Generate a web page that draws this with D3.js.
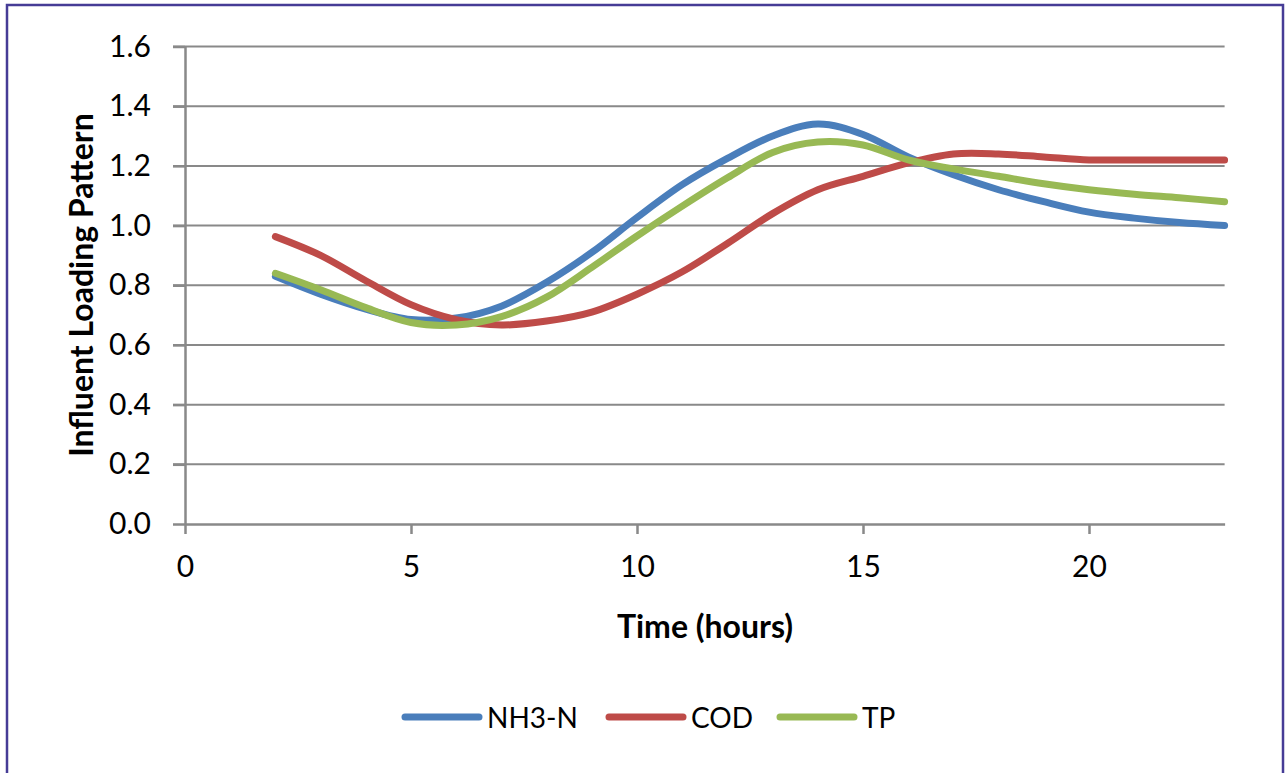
<!DOCTYPE html>
<html>
<head>
<meta charset="utf-8">
<script src="https://cdn.jsdelivr.net/npm/d3@7"></script>
<style>
  body { margin: 0; background: #fff; }
  text { font-family: Lato, "Open Sans", sans-serif; fill: #000; }
</style>
</head>
<body>
<script>
// hours of day
var hours = [2,3,4,5,6,7,8,9,10,11,12,13,14,15,16,17,18,19,20,21,22,23];
// loading patterns
var nh3n = [0.83,0.77,0.72,0.685,0.69,0.73,0.81,0.91,1.027,1.137,1.225,1.30,1.34,1.305,1.23,1.17,1.12,1.08,1.045,1.025,1.01,1.00];
var cod  = [0.963,0.90,0.815,0.735,0.685,0.667,0.68,0.71,0.77,0.845,0.94,1.04,1.12,1.165,1.21,1.24,1.24,1.23,1.22,1.22,1.22,1.22];
var tp   = [0.84,0.785,0.725,0.675,0.667,0.695,0.76,0.86,0.965,1.065,1.16,1.245,1.28,1.27,1.22,1.19,1.165,1.14,1.12,1.105,1.093,1.08];
var seriesNames = ["NH3-N","COD","TP"];
var seriesColors = ["#4a7ebb","#be4b48","#98b954"];
var yTicks = [0,0.2,0.4,0.6,0.8,1.0,1.2,1.4,1.6];
var xTicks = [0,5,10,15,20];

var W = 1286, H = 773;
var svg = d3.select("body").append("svg")
    .attr("width", W)
    .attr("height", H);

// outer frame (bottom edge runs off the picture)
svg.append("rect")
    .attr("x", 7).attr("y", 5)
    .attr("width", 1276).attr("height", 800)
    .attr("fill", "none")
    .attr("stroke", "#463c96")
    .attr("stroke-width", 2.5);

var x = d3.scaleLinear().domain([0,23]).range([185,1224.6]);
var y = d3.scaleLinear().domain([0,1.6]).range([524,46.5]);

// gridlines
svg.selectAll("line.grid")
    .data(yTicks.slice(1))
    .enter().append("line")
    .attr("class","grid")
    .attr("x1", 173).attr("x2", x(23))
    .attr("y1", function(d){ return y(d); })
    .attr("y2", function(d){ return y(d); })
    .attr("stroke", "#898989")
    .attr("stroke-width", 2);

var yAxis = svg.append("g")
    .attr("transform", "translate(" + x(0) + ",0)")
    .call(d3.axisLeft(y).tickValues(yTicks).tickFormat(d3.format(".1f"))
      .tickSize(12).tickSizeOuter(0).tickPadding(22));
var xAxis = svg.append("g")
    .attr("transform", "translate(0," + y(0) + ")")
    .call(d3.axisBottom(x).tickValues(xTicks).tickSize(10).tickSizeOuter(0).tickPadding(22));

[yAxis, xAxis].forEach(function(g){
  g.select(".domain").attr("stroke","#898989").attr("stroke-width",2.5);
  g.selectAll(".tick line").attr("stroke","#898989").attr("stroke-width",2.5);
  g.selectAll(".tick text").style("font-size","30px").attr("fill","#000");
});

// axis titles
svg.append("text")
    .attr("x", 705).attr("y", 638)
    .attr("text-anchor","middle")
    .style("font-size","32px").style("font-weight","bold")
    .text("Time (hours)");
svg.append("text")
    .attr("transform","translate(93,285) rotate(-90)")
    .attr("text-anchor","middle")
    .style("font-size","32px").style("font-weight","bold")
    .text("Influent Loading Pattern");

// series lines, smoothed like the spreadsheet
var allSeries = [nh3n, cod, tp];
var line = d3.line()
    .x(function(d,i){ return x(hours[i]); })
    .y(function(d){ return y(d); })
    .curve(d3.curveCardinal.tension(0));

// draw blue, then red, then green on top
svg.selectAll("path.series")
    .data(allSeries)
    .enter().append("path")
    .attr("class","series")
    .attr("d", line)
    .attr("fill","none")
    .attr("stroke", function(d,i){ return seriesColors[i]; })
    .attr("stroke-width", 7)
    .attr("stroke-linecap","round")
    .attr("stroke-linejoin","round");

// legend
var legendX = [405, 609, 780];
var leg = svg.selectAll("g.legend")
    .data(seriesNames)
    .enter().append("g")
    .attr("class","legend")
    .attr("transform", function(d,i){ return "translate(" + legendX[i] + ",717)"; });
leg.append("line")
    .attr("x1",0).attr("x2",74).attr("y1",0).attr("y2",0)
    .attr("stroke", function(d,i){ return seriesColors[i]; })
    .attr("stroke-width",7)
    .attr("stroke-linecap","round");
leg.append("text")
    .attr("x", 82).attr("y", 11)
    .style("font-size","28px")
    .text(function(d){ return d; });
</script>
</body>
</html>
